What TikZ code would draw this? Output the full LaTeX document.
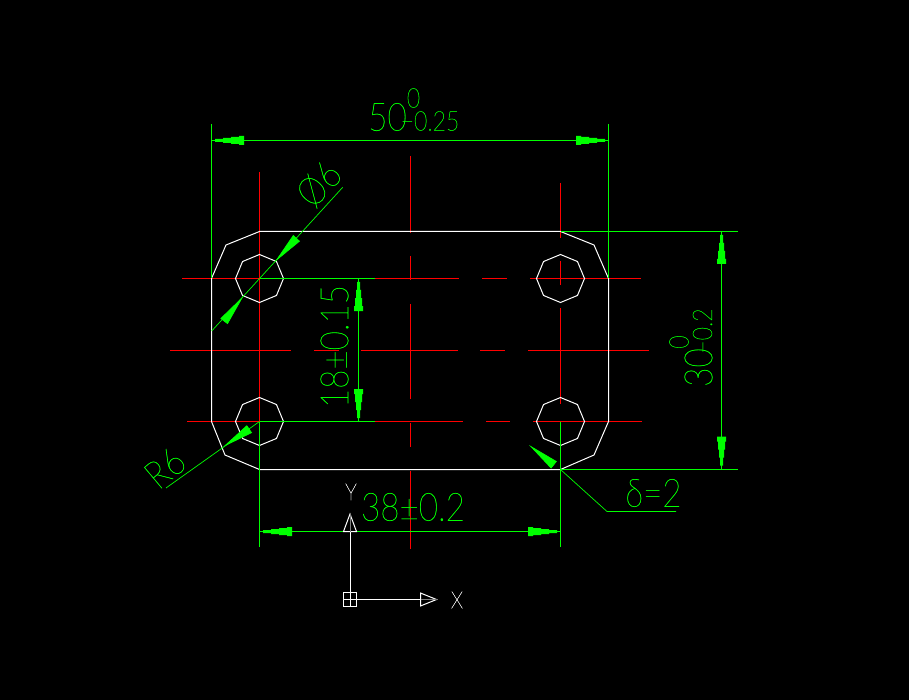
\documentclass[tikz,border=0pt]{standalone}
\usepackage{fontspec}
\usetikzlibrary{arrows.meta}
\newfontfamily\cadfont[FakeStretch=0.85,FakeBold=0.6]{Lato Hairline}
\tikzset{
    centerline/.style={red, line width=1pt},
    outline/.style={white, line width=1pt},
    dimline/.style={green, line width=1pt},
    thinleader/.style={green, line width=0.7pt},
    dimtip/.style={green, line width=0.7pt, -{Triangle[length=32pt,width=9pt]}},
    bigtext/.style={text=green, inner sep=0pt, anchor=center, font=\cadfont\fontsize{39}{39}\selectfont},
    smalltext/.style={text=green, inner sep=0pt, anchor=center, font=\cadfont\fontsize{27}{27}\selectfont},
    ucstext/.style={text=white, inner sep=0pt, anchor=center, font=\cadfont\fontsize{24}{24}\selectfont},
    dimhead/.pic={
        \fill[green] (0,-1.5) -- (-8,-1.5) -- (-8,-2.5) -- (-16,-2.5) -- (-16,-3.5) -- (-24,-3.5) -- (-24,-4.5)
            -- (-29,-4.5) -- (-29,4.5) -- (-24,4.5) -- (-24,3.5) -- (-16,3.5) -- (-16,2.5) -- (-8,2.5) -- (-8,1.5) -- (0,1.5) -- cycle;
    },
    hole/.pic={
        \draw[outline] (0:24) \foreach \a in {45,90,...,315} { -- (\a:24) } -- cycle;
    }
}
\begin{document}
\begin{tikzpicture}[x=1pt, y=-1pt]
    \fill[black] (0,0) rectangle (909,700);

    % centre lines
    \draw[centerline] (259.5,172) -- (259.5,421.5);
    \foreach \ya/\yb in {183/238,261/285,308/404}
        \draw[centerline] (560.5,\ya) -- (560.5,\yb);
    \foreach \ya/\yb in {156/233,256/280,304/399,423/447,471/549}
        \draw[centerline] (410.5,\ya) -- (410.5,\yb);
    \foreach \xa/\xb in {182/459,482/507,530/641}
        \draw[centerline] (\xa,278.5) -- (\xb,278.5);
    \foreach \xa/\xb in {170/291,314/339,361/458,480/505,528/649}
        \draw[centerline] (\xa,350.5) -- (\xb,350.5);
    \foreach \xa/\xb in {187/463,486/510,533/642}
        \draw[centerline] (\xa,421.5) -- (\xb,421.5);

    % plate and holes
    \draw[outline] (259.5,231.5) -- (560.5,231.5) -- (594,245) -- (608.5,278.5) -- (608.5,421.5) -- (594,455)
        -- (560.5,469.5) -- (259.5,469.5) -- (225,455) -- (211.5,421.5) -- (211.5,278.5) -- (226,245) -- cycle;
    \foreach \cx/\cy in {259.5/278.5,560.5/278.5,259.5/421.5,560.5/421.5}
        \pic at (\cx,\cy) {hole};

    % reference points
    \coordinate (holeTL) at (259.5,278.5);
    \coordinate (holeBL) at (259.5,421.5);
    \coordinate (holeBR) at (560.5,421.5);
    \coordinate (cornerBR) at (560.5,469.5);
    \coordinate (topExtL) at (211.5,124);
    \coordinate (topFootL) at (211.5,278.5);
    \coordinate (topExtR) at (608.5,124);
    \coordinate (topFootR) at (608.5,278.5);

    % overall width
    \draw[dimline] (topExtL) -- (topFootL);
    \draw[dimline] (topExtR) -- (topFootR);
    \draw[dimline] (211.5,140.5) -- (608.5,140.5);
    \pic[rotate=180] at (215,140.5) {dimhead};
    \pic at (605,140.5) {dimhead};
    \node[bigtext] (widthVal) at (387.5,117) {50};
    \node[smalltext] (widthUp) at (413.5,98) {0};
    \node[smalltext] (widthLow) at (430,121) {−0.25};

    % overall height
    \draw[dimline] (560.5,231.5) -- (738,231.5);
    \draw[dimline] (cornerBR) -- (738,469.5);
    \draw[dimline] (721.5,231.5) -- (721.5,469.5);
    \pic[rotate=90] at (721.5,235) {dimhead};
    \pic[rotate=-90] at (721.5,465.5) {dimhead};
    \node[bigtext, rotate=90] (heightVal) at (698.5,367.5) {30};
    \node[smalltext, rotate=90] (heightUp) at (679,342) {0};
    \node[smalltext, rotate=90] (heightLow) at (702.5,331) {−0.2};

    % hole spacing, vertical
    \draw[dimline] (holeTL) -- (375,278.5);
    \draw[dimline] (holeBL) -- (375,421.5);
    \draw[dimline] (358.5,278.5) -- (358.5,421.5);
    \pic[rotate=90] at (358.5,282) {dimhead};
    \pic[rotate=-90] at (358.5,418) {dimhead};
    \node[bigtext, rotate=90] (spacingV) at (334.5,346.5) {18±0.15};

    % hole spacing, horizontal
    \draw[dimline] (holeBL) -- (259.5,547);
    \draw[dimline] (holeBR) -- (560.5,547);
    \draw[dimline] (259.5,531.5) -- (560.5,531.5);
    \pic[rotate=180] at (263,531.5) {dimhead};
    \pic at (557,531.5) {dimhead};
    \node[bigtext] (spacingH) at (413,507) {38±0.2};

    % hole diameter
    \coordinate (diaEnd) at (342.7,187.3);
    \coordinate (diaFoot) at (211.7,331);
    \coordinate (diaBaseA) at (296.7,238);
    \coordinate (diaTipA) at (275,261.7);
    \coordinate (diaBaseB) at (225,320);
    \coordinate (diaTipB) at (243.5,296);
    \draw[thinleader] (diaEnd) -- (diaFoot);
    \draw[dimtip] (diaBaseA) -- (diaTipA);
    \draw[dimtip] (diaBaseB) -- (diaTipB);
    \node[bigtext, rotate=47.5] (diaVal) at (319,184) {Ø6};

    % corner radius
    \coordinate (radEnd) at (166,488);
    \coordinate (radBase) at (246.5,431);
    \coordinate (radTip) at (223,447);
    \draw[thinleader] (holeBL) -- (radEnd);
    \draw[dimtip] (radBase) -- (radTip);
    \node[bigtext, rotate=40] (radVal) at (165,468) {R6};

    % thickness
    \coordinate (thickKnee) at (607,511.5);
    \coordinate (thickEnd) at (676,511.5);
    \coordinate (thickBase) at (554,465);
    \coordinate (thickTip) at (529,445);
    \draw[thinleader] (cornerBR) -- (thickKnee) -- (thickEnd);
    \draw[dimtip] (thickBase) -- (thickTip);
    \node[bigtext] (thickVal) at (653.5,493) {δ=2};

    % ucs icon
    \coordinate (ucsO) at (350,599.5);
    \draw[outline] (343.5,592.5) rectangle (356.5,606.5);
    \draw[outline] (350,592.5) -- (350,606.5);
    \draw[outline] (343.5,599.5) -- (356.5,599.5);
    \draw[outline] (350,592.5) -- (350,531.5);
    \draw[outline] (356.5,599.5) -- (420.5,599.5);
    \draw[outline] (343.5,531.5) -- (356.5,531.5) -- (350,514) -- cycle;
    \draw[outline] (420.5,593) -- (420.5,606) -- (436.5,599.5) -- cycle;
    \draw[gray] (350,531.5) -- (350,514);
    \draw[gray] (420.5,599.5) -- (436.5,599.5);
    \node[ucstext] (axisY) at (351,492) {Y};
    \node[ucstext] (axisX) at (457,600) {X};
\end{tikzpicture}
\end{document}
